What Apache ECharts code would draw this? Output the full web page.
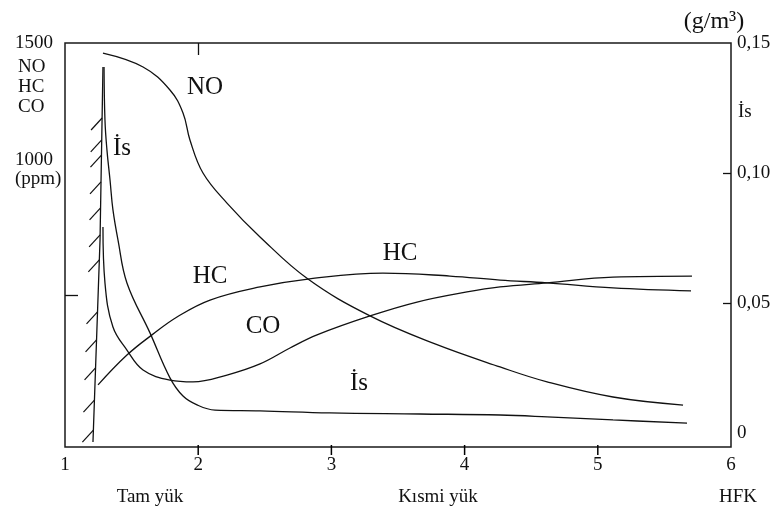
<!DOCTYPE html>
<html><head><meta charset="utf-8">
<script src="https://cdn.jsdelivr.net/npm/echarts@6/dist/echarts.min.js"></script>
<style>html,body{margin:0;padding:0;background:#fff}#c{width:777px;height:518px}</style>
</head><body><div id="c"></div>
<script>
// ---- data ----
const xLabelValues = [1, 2, 3, 4, 5, 6];
const xTickValues = [2, 3, 4, 5];
const ppmLabelValues = [1000, 1500];
const ppmTickValues = [500];
const sootLabelValues = [0, 0.05, 0.10, 0.15];
const sootTickValues = [0.05, 0.10];

const noX = [1.285,1.586,1.788,1.886,1.938,2.036,2.216,2.464,2.824,3.290,3.778,4.266,4.619,5.114,5.640];
const noY = [1460,1405,1314,1223,1116,985,866,732,565,419,308,217,158,98,66];

const hcX = [1.248,1.465,1.653,1.841,2.089,2.464,2.824,3.387,3.890,4.266,4.619,5.114,5.700];
const hcY = [146,264,344,415,482,534,565,589,577,561,550,530,518];

const coX = [1.285,1.300,1.360,1.465,1.586,1.788,1.961,2.216,2.464,2.689,2.892,3.290,3.643,4.018,4.266,4.619,5.114,5.707];
const coY = [771,550,375,284,205,165,158,185,229,292,344,419,474,514,534,550,573,577];

const sootX = [1.293,1.300,1.315,1.338,1.360,1.398,1.465,1.638,1.788,1.886,1.991,2.126,2.464,2.989,3.665,4.266,4.619,5.114,5.670];
const sootY = [0.1408,0.1204,0.1088,0.0973,0.0858,0.0742,0.0577,0.0385,0.0212,0.0142,0.0108,0.0088,0.0085,0.0077,0.0073,0.0069,0.0062,0.0050,0.0038];

// full-load limit line and its hatch marks (ppm scale)
const fullLoadX = [1.285, 1.263, 1.210];
const fullLoadY = [1405, 720, -80];
const hatchY = [1203,1116,1056,950,847,740,641,435,324,213,86,-33];

// ---- build ----
const PPM_MIN = -100, PPM_MAX = 1500;
const zip = (a, b) => a.map((v, i) => [v, b[i]]);
function lineXAt(y) {
  for (let i = 0; i < fullLoadY.length - 1; i++) {
    const y0 = fullLoadY[i], y1 = fullLoadY[i + 1];
    if ((y <= y0 && y >= y1) || (y >= y0 && y <= y1)) {
      const t = (y - y0) / (y1 - y0);
      return fullLoadX[i] + t * (fullLoadX[i + 1] - fullLoadX[i]);
    }
  }
  return fullLoadX[fullLoadX.length - 1];
}
const hatchData = hatchY.map(y => [lineXAt(y), y]);
const bottomTickData = xTickValues.map(v => [v, PPM_MIN]);

const FONT = '"Liberation Serif", "Times New Roman", serif';
const INK = '#111';
const lineStyle = { color: INK, width: 1.3 };
const tickStyle = { color: '#111', width: 1.3 };

function curve(name, x, y, yIdx, smooth) {
  return {
    name, type: 'line', xAxisIndex: 0, yAxisIndex: yIdx,
    data: zip(x, y), smooth: smooth, showSymbol: false, symbol: 'none',
    lineStyle, silent: true
  };
}

const chart = echarts.init(document.getElementById('c'), null, { renderer: 'canvas' });

function txt(text, x, y, size, align) {
  return {
    type: 'text', x, y, silent: true,
    style: { text, fill: INK, font: size + 'px ' + FONT, align: align || 'center', verticalAlign: 'middle', lineHeight: 20 }
  };
}

const option = {
  animation: false,
  backgroundColor: '#fff',
  grid: { left: 65, right: 46, top: 43, bottom: 71, show: true, borderColor: '#1a1a1a', borderWidth: 1.5 },
  xAxis: [
    {
      type: 'value', min: 1, max: 6, position: 'bottom',
      axisLine: { show: false, onZero: false }, splitLine: { show: false },
      axisTick: { show: false },
      axisLabel: { customValues: xLabelValues, fontFamily: FONT, fontSize: 19, color: INK, margin: 9 }
    },
    {
      type: 'value', min: 1, max: 6, position: 'top',
      axisLine: { show: false, onZero: false }, splitLine: { show: false },
      axisTick: { show: true, inside: true, length: 12, customValues: [2], lineStyle: tickStyle },
      axisLabel: { show: false }
    }
  ],
  yAxis: [
    {
      type: 'value', min: PPM_MIN, max: PPM_MAX, position: 'left',
      axisLine: { show: false, onZero: false }, splitLine: { show: false },
      axisTick: { show: true, inside: true, length: 13, customValues: ppmTickValues, lineStyle: tickStyle },
      axisLabel: {
        customValues: ppmLabelValues, align: 'left', margin: 50,
        fontFamily: FONT, fontSize: 19, lineHeight: 19, color: INK,
        formatter: v => Math.round(v) === 1000 ? '1000\n(ppm)' : String(Math.round(v))
      }
    },
    {
      type: 'value', min: -0.0054, max: 0.15, position: 'right',
      axisLine: { show: false, onZero: false }, splitLine: { show: false },
      axisTick: { show: true, inside: true, length: 8, customValues: sootTickValues, lineStyle: tickStyle },
      axisLabel: {
        customValues: sootLabelValues, margin: 6,
        fontFamily: FONT, fontSize: 19, color: INK,
        formatter: v => Math.abs(v) < 1e-9 ? '0' : v.toFixed(2).replace('.', ',')
      }
    }
  ],
  series: [
    curve('NO', noX, noY, 0, 0.4),
    curve('HC', hcX, hcY, 0, 0.4),
    curve('CO', coX, coY, 0, 0.4),
    curve('İs', sootX, sootY, 1, 0.4),
    curve('Tam yük sınırı', fullLoadX, fullLoadY, 0, false),
    {
      type: 'custom', xAxisIndex: 0, yAxisIndex: 0, silent: true,
      data: hatchData,
      renderItem: function (params, api) {
        const p = api.coord([api.value(0), api.value(1)]);
        return {
          type: 'line',
          shape: { x1: p[0], y1: p[1], x2: p[0] - 11, y2: p[1] + 12 },
          style: { stroke: INK, lineWidth: 1.2 }
        };
      }
    },
    {
      type: 'custom', xAxisIndex: 0, yAxisIndex: 0, silent: true, clip: false, z: 10,
      data: bottomTickData,
      renderItem: function (params, api) {
        const p = api.coord([api.value(0), api.value(1)]);
        return {
          type: 'line',
          shape: { x1: p[0], y1: p[1] - 2, x2: p[0], y2: p[1] + 8 },
          style: { stroke: '#000', lineWidth: 1.5 }
        };
      }
    }
  ],
  graphic: [
    txt('NO\nHC\nCO', 18, 87, 19, 'left'),
    txt('(g/m³)', 714, 22, 24),
    txt('İs', 738, 112, 19, 'left'),
    txt('NO', 205, 87, 25),
    txt('İs', 122, 148, 25),
    txt('HC', 210, 276, 25),
    txt('CO', 263, 326, 25),
    txt('HC', 400, 253, 25),
    txt('İs', 359, 383, 25),
    txt('Tam yük', 150, 497, 19),
    txt('Kısmi yük', 438, 497, 19),
    txt('HFK', 738, 497, 19)
  ]
};
chart.setOption(option);
</script>
</body></html>
